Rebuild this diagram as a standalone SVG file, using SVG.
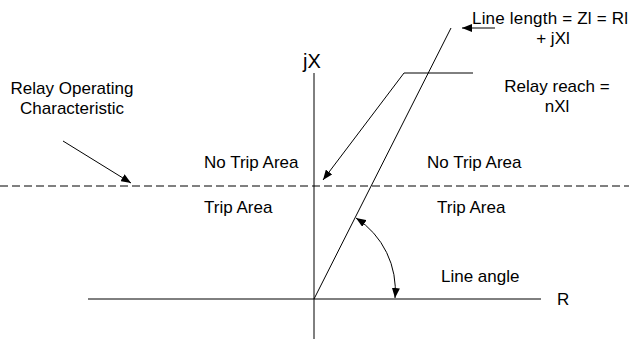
<svg xmlns="http://www.w3.org/2000/svg" width="629" height="339" viewBox="0 0 629 339">
<style>
text{font-family:"Liberation Sans",Arial,sans-serif;font-size:17px;fill:#000}
.ln{stroke:#000;stroke-width:1;fill:none}
.dash{stroke:#000;stroke-width:1;stroke-dasharray:8 4;fill:none}
</style>
<defs>
<marker id="ah" viewBox="0 0 10 8" refX="10" refY="4" markerWidth="10" markerHeight="8" markerUnits="userSpaceOnUse" orient="auto-start-reverse">
<path d="M0,0 L10,4 L0,8 Z" fill="#000"/>
</marker>
</defs>
<rect width="629" height="339" fill="#fff"/>
<g id="axes">
<line class="ln" x1="314" y1="73" x2="314" y2="339"/>
<line class="ln" x1="88" y1="299" x2="541" y2="299"/>
<text x="303" y="68" style="font-size:20px">jX</text>
<text x="557" y="305">R</text>
</g>
<g id="characteristic">
<line class="dash" x1="0" y1="186" x2="629" y2="186"/>
</g>
<g id="impedance-line">
<line class="ln" x1="314" y1="299" x2="451" y2="28"/>
</g>
<g id="labels">
<text x="204" y="168">No Trip Area</text>
<text x="427" y="168">No Trip Area</text>
<text x="204" y="213">Trip Area</text>
<text x="437" y="213">Trip Area</text>
<text x="441" y="282">Line angle</text>
<text x="72" y="94" text-anchor="middle">Relay Operating</text>
<text x="72" y="114" text-anchor="middle">Characteristic</text>
<text x="472" y="24" textLength="156">Line length = Zl = Rl</text>
<text x="553" y="44" text-anchor="middle">+ jXl</text>
<text x="557" y="92" text-anchor="middle">Relay reach =</text>
<text x="557" y="112" text-anchor="middle">nXl</text>
</g>
<g id="connectors">
<line class="ln" x1="495" y1="28" x2="462" y2="28" marker-end="url(#ah)"/>
<polyline class="ln" points="473,73 404,73 323,180" marker-end="url(#ah)"/>
<line class="ln" x1="63" y1="141" x2="131" y2="183" marker-end="url(#ah)"/>
<path class="ln" d="M356,218 A86,86 0 0 1 395,298" marker-start="url(#ah)" marker-end="url(#ah)"/>
</g>
</svg>
